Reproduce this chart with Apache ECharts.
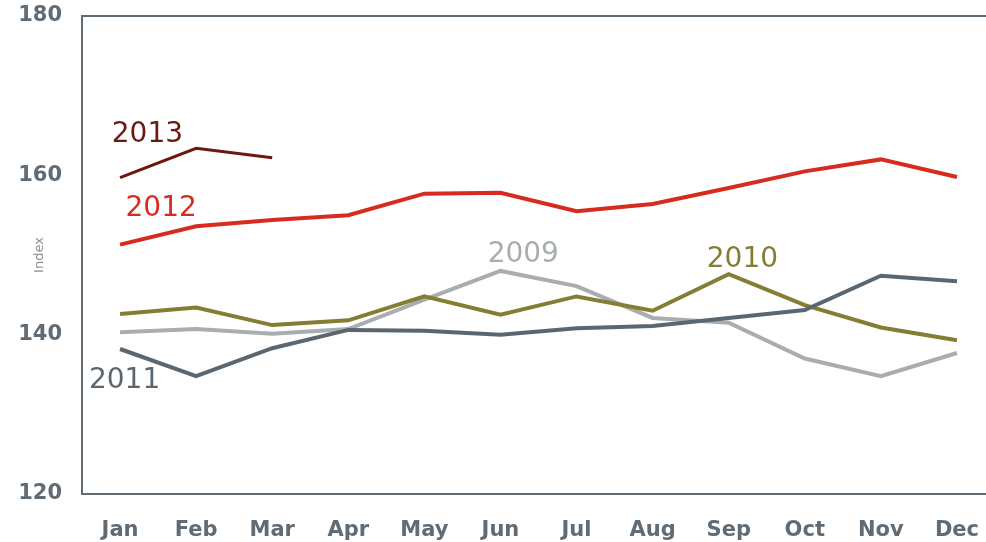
<!DOCTYPE html>
<html>
<head>
<meta charset="utf-8">
<script src="https://cdn.jsdelivr.net/npm/echarts@6/dist/echarts.min.js"></script>
<style>
  html, body { margin: 0; padding: 0; background: #fff; }
  #chart { width: 986px; height: 542px; }
</style>
</head>
<body>
<div id="chart"></div>
<script>
// Monthly index values by year
const months = ['Jan', 'Feb', 'Mar', 'Apr', 'May', 'Jun', 'Jul', 'Aug', 'Sep', 'Oct', 'Nov', 'Dec'];
const yTicks = [120, 140, 160, 180];

const idx2009 = [140.3, 140.7, 140.1, 140.7, 144.4, 148.0, 146.1, 142.1, 141.5, 137.0, 134.8, 137.7];
const idx2010 = [142.6, 143.4, 141.2, 141.8, 144.8, 142.5, 144.8, 143.0, 147.6, 143.7, 140.9, 139.3];
const idx2011 = [138.2, 134.8, 138.3, 140.6, 140.5, 140.0, 140.8, 141.1, 142.1, 143.1, 147.4, 146.7];
const idx2012 = [151.3, 153.6, 154.4, 155.0, 157.7, 157.8, 155.5, 156.4, 158.4, 160.5, 162.0, 159.8];
const idx2013 = [159.7, 163.4, 162.2];

const seriesNames = ['2009', '2010', '2011', '2012', '2013'];
const seriesData = [idx2009, idx2010, idx2011, idx2012, idx2013];

// Styling per year
const colors = ['#a8adb0', '#857d34', '#5b6770', '#d72b1f', '#6d1712'];
const widths = [4, 4, 4, 4, 3];

// Where each year's name sits, as (fractional month index, index value)
const tagAt = {
  '2009': [5.30, 150.0],
  '2010': [8.18, 149.4],
  '2011': [0.06, 134.2],
  '2012': [0.54, 155.8],
  '2013': [0.36, 165.1]
};

const axisColor = '#5f6b75';
const chart = echarts.init(document.getElementById('chart'));

chart.setOption({
  animation: false,
  grid: {
    left: 82, right: -9, top: 16, bottom: 48,
    outerBoundsMode: 'none',
    containLabel: false,
    show: true, borderColor: axisColor, borderWidth: 2, backgroundColor: 'transparent'
  },
  xAxis: {
    type: 'category',
    data: months,
    boundaryGap: true,
    axisLine: { show: true, lineStyle: { color: axisColor, width: 2 } },
    axisTick: { show: false },
    axisLabel: {
      color: axisColor, fontFamily: 'DejaVu Sans', fontWeight: 'bold', fontSize: 21, margin: 26
    },
    splitLine: { show: false }
  },
  yAxis: {
    type: 'value',
    min: yTicks[0], max: yTicks[yTicks.length - 1], interval: 20,
    name: 'Index',
    nameLocation: 'middle',
    nameGap: 36,
    nameMoveOverlap: false,
    nameTextStyle: { color: '#8a8f93', fontFamily: 'DejaVu Sans', fontSize: 13 },
    axisLine: { show: true, lineStyle: { color: axisColor, width: 2 } },
    axisTick: { show: false },
    axisLabel: {
      color: axisColor, fontFamily: 'DejaVu Sans', fontWeight: 'bold', fontSize: 21, margin: 20
    },
    splitLine: { show: false }
  },
  series: seriesNames.map((name, i) => ({
    name: name,
    type: 'line',
    data: seriesData[i],
    symbol: 'none',
    lineStyle: { color: colors[i], width: widths[i], join: 'miter' },
    z: 2 + i
  }))
});

// Year tags drawn next to their lines
function place(pos) {
  const i0 = Math.floor(pos[0]);
  const a = chart.convertToPixel({ gridIndex: 0 }, [i0, pos[1]]);
  const b = chart.convertToPixel({ gridIndex: 0 }, [i0 + 1, pos[1]]);
  return [a[0] + (b[0] - a[0]) * (pos[0] - i0), a[1]];
}

chart.setOption({
  graphic: seriesNames.map((name, i) => {
    const p = place(tagAt[name]);
    return {
      type: 'text',
      x: p[0], y: p[1],
      z: 100,
      style: {
        text: name,
        fill: colors[i],
        font: '28px "DejaVu Sans"',
        textAlign: 'center',
        textVerticalAlign: 'middle'
      }
    };
  })
});
</script>
</body>
</html>
